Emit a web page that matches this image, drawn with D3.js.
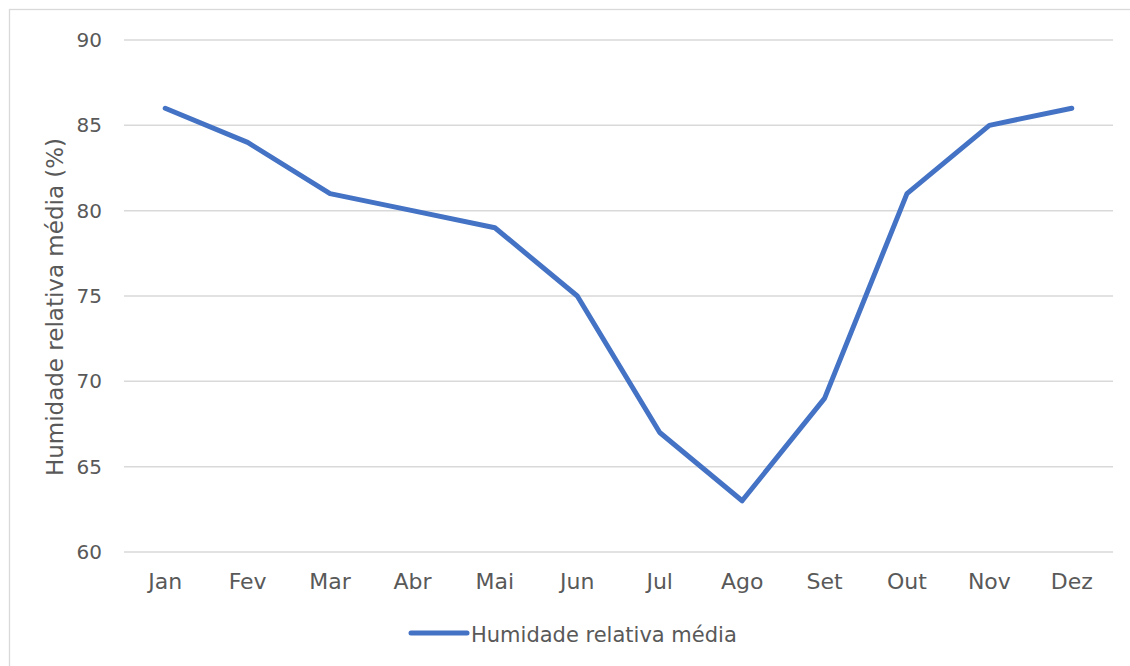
<!DOCTYPE html>
<html>
<head>
<meta charset="utf-8">
<script src="https://cdn.jsdelivr.net/npm/d3@7"></script>
<style>
  html, body { margin: 0; padding: 0; background: #fff; }
  svg { display: block; font-family: "DejaVu Sans", Verdana, sans-serif; }
</style>
</head>
<body>
<svg id="chart" width="1130" height="666"></svg>
<script>
// Monthly average relative humidity
const months = ["Jan", "Fev", "Mar", "Abr", "Mai", "Jun", "Jul", "Ago", "Set", "Out", "Nov", "Dez"];
const humidity = [86, 84, 81, 80, 79, 75, 67, 63, 69, 81, 85, 86];
const yTicks = [60, 65, 70, 75, 80, 85, 90];
const seriesName = "Humidade relativa média";
const yTitle = "Humidade relativa média (%)";

const svg = d3.select("#chart");
const margin = { left: 124, right: 1113, top: 40, bottom: 552 };
const textColor = "#595959";
const gridColor = "#d9d9d9";
const lineColor = "#4472C4";
const fontFamily = "DejaVu Sans, Verdana, sans-serif";

// outer frame
svg.append("rect")
  .attr("x", 9.5).attr("y", 9.5)
  .attr("width", 1140).attr("height", 680)
  .attr("fill", "none").attr("stroke", gridColor).attr("stroke-width", 1.3);

const x = d3.scaleBand().domain(months).range([margin.left, margin.right]);
const y = d3.scaleLinear().domain([60, 90]).range([margin.bottom, margin.top]);

// horizontal gridlines
svg.append("g").selectAll("line").data(yTicks).join("line")
  .attr("x1", margin.left).attr("x2", margin.right)
  .attr("y1", d => y(d)).attr("y2", d => y(d))
  .attr("stroke", gridColor).attr("stroke-width", 1.5);

// y axis labels
const yAxis = svg.append("g")
  .attr("transform", `translate(${margin.left - 22},0)`)
  .call(d3.axisLeft(y).tickValues(yTicks).tickSize(0).tickPadding(0));
yAxis.select(".domain").remove();
yAxis.selectAll("text")
  .attr("fill", textColor).style("font-size", "20px")
  .style("font-family", fontFamily);

// x axis labels
const xAxis = svg.append("g")
  .attr("transform", `translate(0,${margin.bottom + 21})`)
  .call(d3.axisBottom(x).tickSize(0).tickPadding(0));
xAxis.select(".domain").remove();
xAxis.selectAll("text")
  .attr("fill", textColor).style("font-size", "22px")
  .style("font-family", fontFamily);

// y axis title
svg.append("text")
  .attr("transform", `translate(63,${(margin.top + margin.bottom) / 2 + 11}) rotate(-90)`)
  .attr("text-anchor", "middle")
  .attr("fill", textColor)
  .style("font-size", "23px")
  .text(yTitle);

// data line
const line = d3.line()
  .x((d, i) => x(months[i]) + x.bandwidth() / 2)
  .y(d => y(d));
svg.append("path")
  .datum(humidity)
  .attr("d", line)
  .attr("fill", "none")
  .attr("stroke", lineColor)
  .attr("stroke-width", 5)
  .attr("stroke-linejoin", "round")
  .attr("stroke-linecap", "round");

// legend
const legend = svg.append("g").attr("transform", "translate(411,633)");
legend.append("line")
  .attr("x1", 0).attr("x2", 56).attr("y1", 0).attr("y2", 0)
  .attr("stroke", lineColor).attr("stroke-width", 5)
  .attr("stroke-linecap", "round");
legend.append("text")
  .attr("x", 60).attr("y", 9)
  .attr("fill", textColor)
  .style("font-size", "21px")
  .text(seriesName);
</script>
</body>
</html>
